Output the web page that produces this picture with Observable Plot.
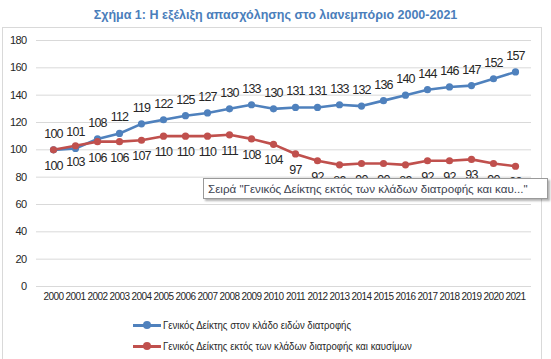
<!DOCTYPE html>
<html><head><meta charset="utf-8">
<script src="https://cdn.jsdelivr.net/npm/d3@7"></script>
<script src="https://cdn.jsdelivr.net/npm/@observablehq/plot@0.6"></script>
<style>
body{margin:0;background:#fff;}
#wrap{position:relative;width:551px;height:359px;overflow:hidden;font-family:"Liberation Sans",Arial,sans-serif;}
#frame{position:absolute;left:2px;top:27px;width:540px;height:340px;border:1px solid #d9d9d9;box-sizing:border-box;}
#title{position:absolute;left:0;width:551px;top:8px;text-align:center;font-weight:bold;font-size:12.5px;color:#4a7ebb;}
#chart{position:absolute;left:0;top:0;}
.leg{position:absolute;left:133px;font-size:11px;color:#262626;display:flex;align-items:center;}
.leg .ln{position:relative;width:28px;height:3px;margin-right:2px;flex:none;}
.leg .ln i{position:absolute;left:10px;top:-2.5px;width:8px;height:8px;border-radius:50%;}
.leg .tx{display:inline-block;transform:scaleX(0.87);transform-origin:left center;white-space:nowrap;}
#tip{position:absolute;left:203px;top:178px;width:345px;height:21px;border:1px solid #9a9a9a;background:#fff;box-shadow:2px 2px 2px rgba(0,0,0,0.3);box-sizing:border-box;font-size:11.6px;color:#3b4250;line-height:19px;padding-left:4px;white-space:nowrap;}
</style></head>
<body>
<div id="wrap">
<div id="frame"></div>
<div id="title">Σχήμα 1: Η εξέλιξη απασχόλησης στο λιανεμπόριο 2000-2021</div>
<div id="chart"></div>
<div id="tip">Σειρά "Γενικός Δείκτης εκτός των κλάδων διατροφής και καυ..."</div>
<div class="leg" style="top:319px"><span class="ln" style="background:#4f81bd"><i style="background:#4f81bd"></i></span><span class="tx">Γενικός Δείκτης στον κλάδο ειδών διατροφής</span></div>
<div class="leg" style="top:340px"><span class="ln" style="background:#c0504d"><i style="background:#c0504d"></i></span><span class="tx">Γενικός Δείκτης εκτός των κλάδων διατροφής και καυσίμων</span></div>
</div>
<script>
const years = ["2000","2001","2002","2003","2004","2005","2006","2007","2008","2009","2010","2011","2012","2013","2014","2015","2016","2017","2018","2019","2020","2021"];
const foodIndex = [100,101,108,112,119,122,125,127,130,133,130,131,131,133,132,136,140,144,146,147,152,157];
const nonFoodIndex = [100,103,106,106,107,110,110,110,111,108,104,97,92,89,90,90,89,92,92,93,90,88];
const seriesNames = ["Γενικός Δείκτης στον κλάδο ειδών διατροφής","Γενικός Δείκτης εκτός των κλάδων διατροφής και καυσίμων"];
const colors = ["#4f81bd","#c0504d"];
const yTicks = [0,20,40,60,80,100,120,140,160,180];

const data = [];
years.forEach((y,i)=>{
  data.push({year:y, value:foodIndex[i], series:seriesNames[0]});
  data.push({year:y, value:nonFoodIndex[i], series:seriesNames[1]});
});
const blue = data.filter(d=>d.series===seriesNames[0]);
const red = data.filter(d=>d.series===seriesNames[1]);

const chart = Plot.plot({
  width:551, height:359,
  marginTop:40, marginBottom:73, marginLeft:36, marginRight:20,
  style:{fontFamily:'"Liberation Sans",Arial,sans-serif', background:"transparent", color:"#262626"},
  x:{type:"point", domain:years, padding:0.5, label:null},
  y:{domain:[0,180], ticks:yTicks, label:null},
  color:{domain:seriesNames, range:colors},
  marks:[
    Plot.gridY(yTicks,{stroke:"#d9d9d9", strokeOpacity:1, strokeWidth:1}),
    Plot.axisY(yTicks,{tickSize:0, tickPadding:10, fontSize:11, fill:"#262626"}),
    Plot.axisX({tickSize:0, tickPadding:6, fontSize:10, fill:"#262626"}),
    Plot.line(data,{x:"year", y:"value", stroke:"series", strokeWidth:2.6}),
    Plot.dot(data,{x:"year", y:"value", fill:"series", r:3.6}),
    Plot.text(blue,{x:"year", y:"value", text:d=>String(d.value), dy:-16, fontSize:12.5, fill:"#262626"}),
    Plot.text(red,{x:"year", y:"value", text:d=>String(d.value), dy:16, fontSize:12.5, fill:"#262626"})
  ]
});
d3.select(chart).selectAll('g[aria-label="text"] text').attr("letter-spacing","-0.8");
d3.select(chart).selectAll('g[aria-label="x-axis tick label"] text, g[aria-label="y-axis tick label"] text').attr("letter-spacing","-0.6");
document.getElementById("chart").appendChild(chart);
</script>
</body></html>
